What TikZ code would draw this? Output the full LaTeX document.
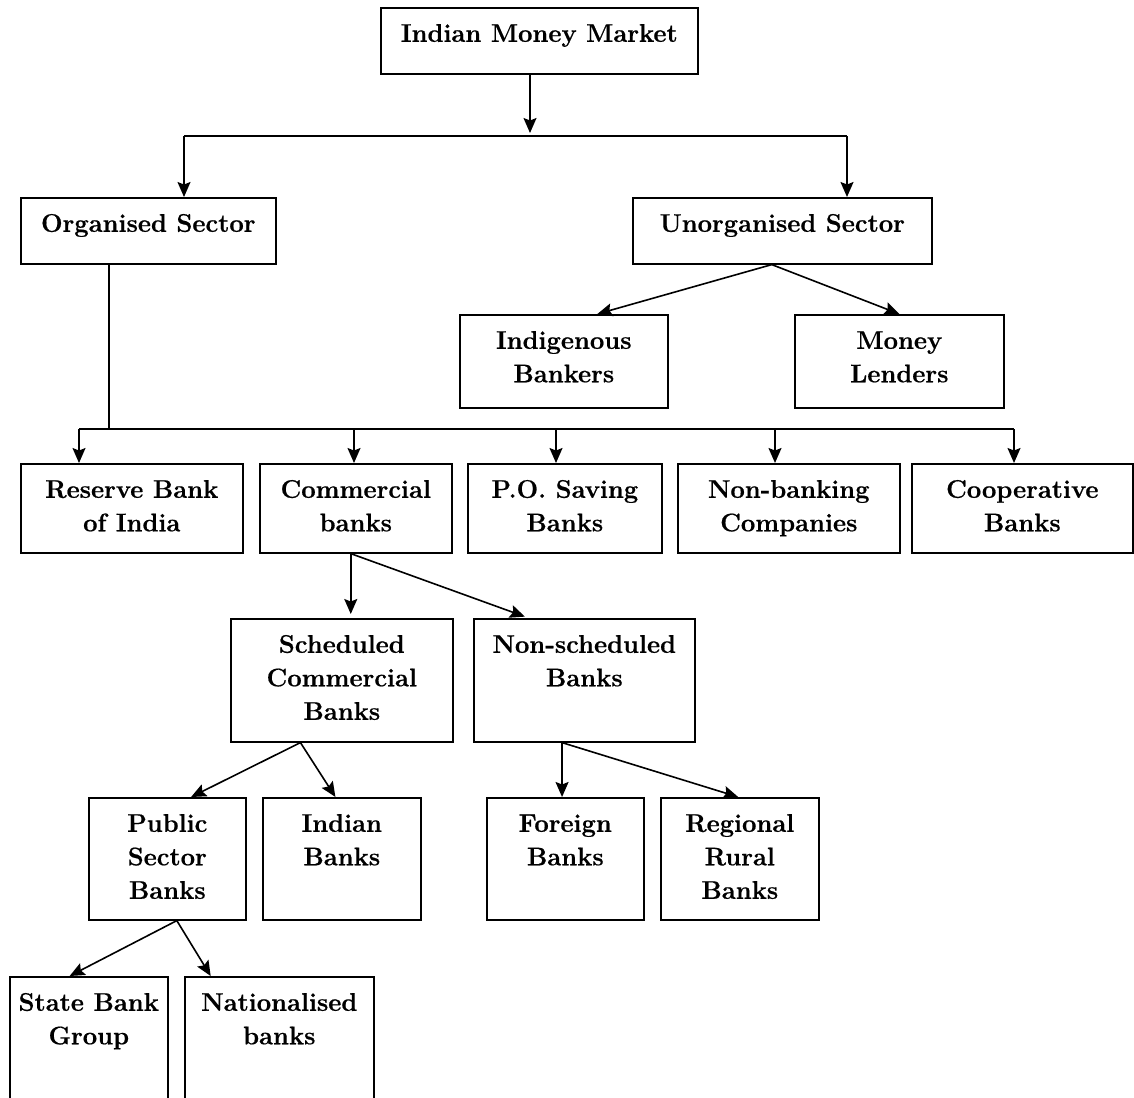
\documentclass[tikz,border=0pt]{standalone}
\usepackage{fontspec}
\newfontfamily\boxfont{Latin Modern Roman}[FakeBold=0.6]
\usetikzlibrary{arrows.meta,calc}
\newcommand{\bxtext}[3]{\parbox[c][#2pt][t]{#1pt}{\centering\rule{0pt}{34pt}#3\par}}
\tikzset{
  box/.style={draw, line width=1.6pt, inner sep=0pt, anchor=north west,
              font=\boxfont\fontsize{25.5}{33.5}\selectfont\bfseries},
  arr/.style={line width=1.6pt, -{Stealth[length=15pt,width=13pt,inset=2.5pt]}},
  ln/.style={line width=1.6pt},
}
\begin{document}
\begin{tikzpicture}[x=1pt,y=-1pt]
\useasboundingbox (0,0) rectangle (1134,1097);
\clip (0,0) rectangle (1134,1097);

% boxes
\node[box] (imm)   at (380,7)   {\bxtext{317}{66}{Indian Money Market}};
\node[box] (org)   at (20,197)  {\bxtext{255}{66}{Organised Sector}};
\node[box] (unorg) at (632,197) {\bxtext{299}{66}{Unorganised Sector}};
\node[box] (ind)   at (459,314) {\bxtext{208}{93}{Indigenous\\Bankers}};
\node[box] (ml)    at (794,314) {\bxtext{209}{93}{Money\\Lenders}};
\node[box] (rbi)   at (20,463)  {\bxtext{222}{89}{Reserve Bank\\of India}};
\node[box] (cb)    at (259,463) {\bxtext{192}{89}{Commercial\\banks}};
\node[box] (po)    at (467,463) {\bxtext{194}{89}{P.O. Saving\\Banks}};
\node[box] (nbc)   at (677,463) {\bxtext{222}{89}{Non-banking\\Companies}};
\node[box] (coop)  at (911,463) {\bxtext{221}{89}{Cooperative\\Banks}};
\node[box] (scb)   at (230,618) {\bxtext{222}{123}{Scheduled\\Commercial\\Banks}};
\node[box] (nsb)   at (473,618) {\bxtext{221}{123}{Non-scheduled\\Banks}};
\node[box] (psb)   at (88,797)  {\bxtext{157}{122}{Public\\Sector\\Banks}};
\node[box] (ib)    at (262,797) {\bxtext{158}{122}{Indian\\Banks}};
\node[box] (fb)    at (486,797) {\bxtext{157}{122}{Foreign\\Banks}};
\node[box] (rrb)   at (660,797) {\bxtext{158}{122}{Regional\\Rural\\Banks}};
\node[box] (sbg)   at (9,976)   {\bxtext{158}{150}{State Bank\\Group}};
\node[box] (nat)   at (184,976) {\bxtext{189}{150}{Nationalised\\banks}};

% level 1
\coordinate (j0)  at (530,136);
\coordinate (j0l) at (184,136);
\coordinate (j0r) at (847,136);
\draw[arr, shorten >=3pt] (imm.south -| j0) -- (j0);
\draw[ln] (j0l) -- (j0r);
\draw[arr] (j0l) -- (org.north -| j0l);
\draw[arr] (j0r) -- (unorg.north -| j0r);

% unorganised
\coordinate (uo) at ($(unorg.south west)!0.465!(unorg.south east)$);
\draw[arr] (uo) -- ($(ind.north west)!0.66!(ind.north east)$);
\draw[arr] (uo) -- (ml.north);

% organised
\coordinate (j1)  at (109,429);
\coordinate (j1l) at (79,429);
\coordinate (j1r) at (1014,429);
\coordinate (a2) at (354,429);
\coordinate (a3) at (556,429);
\coordinate (a4) at (775,429);
\draw[ln] (org.south -| j1) -- (j1);
\draw[ln] (j1l) -- (j1r);
\draw[arr] (j1l) -- (rbi.north -| j1l);
\draw[arr] (a2) -- (cb.north -| a2);
\draw[arr] (a3) -- (po.north -| a3);
\draw[arr] (a4) -- (nbc.north -| a4);
\draw[arr] (j1r) -- (coop.north -| j1r);

% commercial banks
\coordinate (co) at ($(cb.south west)!0.474!(cb.south east)$);
\draw[arr, shorten >=4pt] (co) -- (scb.north -| co);
\draw[arr, shorten >=4pt] (co) -- ($(nsb.north west)!0.25!(nsb.north east)$);

% scheduled
\coordinate (so) at ($(scb.south west)!0.315!(scb.south east)$);
\draw[arr] (so) -- ($(psb.north west)!0.65!(psb.north east)$);
\draw[arr] (so) -- ($(ib.north west)!0.46!(ib.north east)$);

% non-scheduled
\coordinate (no) at ($(nsb.south west)!0.40!(nsb.south east)$);
\draw[arr] (no) -- (fb.north -| no);
\draw[arr] (no) -- ($(rrb.north west)!0.49!(rrb.north east)$);

% public sector
\coordinate (po2) at ($(psb.south west)!0.56!(psb.south east)$);
\draw[arr] (po2) -- ($(sbg.north west)!0.38!(sbg.north east)$);
\draw[arr] (po2) -- ($(nat.north west)!0.14!(nat.north east)$);
\end{tikzpicture}
\end{document}
